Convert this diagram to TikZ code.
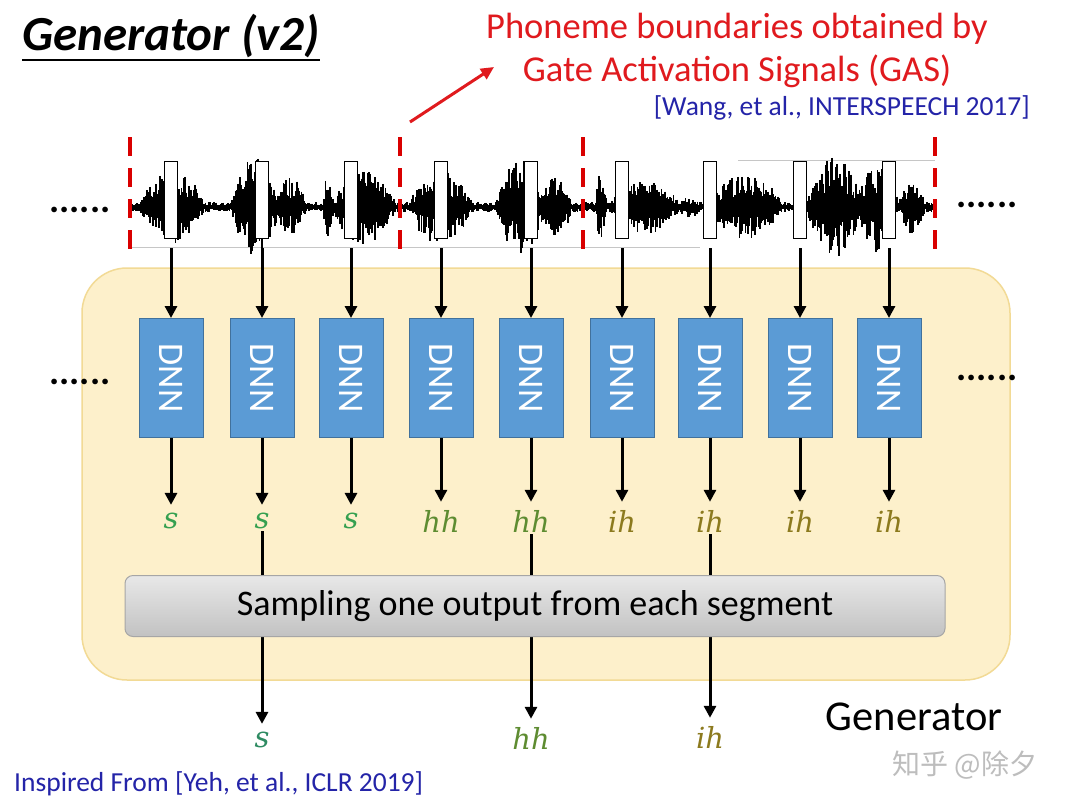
\documentclass[tikz,border=0pt]{standalone}
\usepackage{fontspec}
\setmainfont{Carlito}
\newfontfamily\lblfont{DejaVu Serif}
\newfontfamily\cjk{Noto Sans CJK SC}
\usetikzlibrary{arrows.meta}
\definecolor{genfill}{HTML}{FDF0CB}
\definecolor{gendraw}{HTML}{F2DA95}
\definecolor{dnnfill}{HTML}{5B9BD5}
\definecolor{dnndraw}{HTML}{41719C}
\definecolor{cs}{HTML}{35A050}
\definecolor{chh}{HTML}{5E8C31}
\definecolor{cih}{HTML}{8C7A1E}
\definecolor{csb}{HTML}{2E8B62}
\definecolor{redtxt}{HTML}{E01A1E}
\definecolor{bluetxt}{HTML}{2424A8}
\definecolor{wm}{HTML}{BDBDBD}
\tikzset{
  genbox/.style={draw=gendraw, line width=1.5pt, fill=genfill, rounded corners=45pt, minimum width=928pt, minimum height=412pt},
  framebox/.style={draw=black, line width=1.8pt, fill=white, minimum width=13pt, minimum height=77pt, inner sep=0pt},
  dnn/.style={draw=dnndraw, line width=1pt, fill=dnnfill, minimum width=64pt, minimum height=119pt, inner sep=0pt, text=white, font=\fontsize{36}{36}\selectfont},
  lbl/.style={font=\lblfont\itshape\fontsize{29}{29}\selectfont, inner sep=2pt},
  arr/.style={line width=3pt, -{Triangle[length=12pt,width=12pt]}},
  dots/.style={font=\bfseries\fontsize{38}{38}\selectfont, anchor=base, inner sep=0pt},
  sampbox/.style={draw=gray!70, line width=1pt, top color=gray!18, bottom color=gray!48, rounded corners=8pt, minimum width=820pt, minimum height=61pt, font=\fontsize{36}{36}\selectfont},
  boundary/.style={draw=red!85!black, line width=4pt, dash pattern=on 19pt off 12pt},
  wave/.style={line width=1.8pt, black},
  guide/.style={draw=gray!45, line width=0.8pt}
}
\begin{document}
\begin{tikzpicture}[x=1pt,y=-1pt]
\useasboundingbox (0,0) rectangle (1080,807);
\fill[white] (0,0) rectangle (1080,807);

% title
\node[anchor=base west, inner sep=0pt, font=\bfseries\itshape\fontsize{49}{49}\selectfont] (title) at (22,50) {Generator (v2)};
\draw[line width=2.5pt] ([yshift=-10pt]title.base west) -- ([yshift=-10pt]title.base east);

% red note
\node[align=center, text=redtxt, font=\fontsize{36.5}{43}\selectfont, inner sep=0pt] (note) at (737,50) {Phoneme boundaries obtained by\\Gate Activation Signals (GAS)};
\node[anchor=east, text=bluetxt, font=\fontsize{27.5}{27.5}\selectfont, inner sep=0pt] (wang) at (1030,108) {[Wang, et al., INTERSPEECH 2017]};
\coordinate (arrtail) at (410,122);
\coordinate (arrhead) at (494,67);
\draw[line width=3pt, redtxt, -{Triangle[length=13pt,width=12pt]}] (arrtail) -- (arrhead);

% generator box
\node[genbox] (gen) at (546,474) {};

% waveform
\draw[guide] (130,247) -- (700,247);
\draw[guide] (738,160) -- (935,160);
\pgfmathsetseed{11}
\foreach \x in {131,132.2,...,934} {
  \pgfmathsetmacro\env{5
    +34*max(0,1-((\x-172)/32)^2)
    +45*max(0,1-((\x-255)/24)^2)
    +25*max(0,1-((\x-290)/16)^2)
    +30*max(0,1-((\x-328)/5)^2)
    +32*max(0,1-((\x-364)/32)^2)
    +33*max(0,1-((\x-440)/32)^2)
    +45*max(0,1-((\x-520)/24)^2)
    +25*max(0,1-((\x-556)/16)^2)
    +30*max(0,1-((\x-601)/6)^2)
    +24*max(0,1-((\x-645)/34)^2)
    +6*max(0,1-((\x-690)/10)^2)
    +28*max(0,1-((\x-745)/38)^2)
    +45*max(0,1-((\x-835)/28)^2)
    +40*max(0,1-((\x-878)/20)^2)
    +22*max(0,1-((\x-912)/13)^2)}
  \pgfmathsetmacro\up{\env*(0.3+0.7*rnd)}
  \pgfmathsetmacro\dn{\env*(0.3+0.7*rnd)}
  \draw[wave] (\x,207-\up) -- (\x,207+\dn);
}
\draw[wave] (130,207) -- (935,207);

% boundaries
\foreach \bx in {130,400,583,935} {
  \draw[boundary] (\bx,137) -- (\bx,254);
}

% dots
\node[dots] (dotl1) at (80,212) {......};
\node[dots] (dotr1) at (987,207) {......};
\node[dots] (dotl2) at (80,384) {......};
\node[dots] (dotr2) at (987,380) {......};

% columns
\foreach \i/\cx/\t/\c in {1/171/s/cs,2/262/s/cs,3/351/s/cs,4/441/hh/chh,5/531/hh/chh,6/622/ih/cih,7/710/ih/cih,8/800/ih/cih,9/889/ih/cih} {
  \node[framebox] (f\i) at (\cx,200) {};
  \node[dnn] (d\i) at (\cx,378) {\rotatebox{-90}{DNN}};
  \node[lbl, text=\c] (l\i) at (\cx,521) {\t};
  \draw[arr, shorten <=9pt] (f\i) -- (d\i);
  \draw[arr, shorten >=6pt] (d\i) -- (l\i);
}

% bottom labels
\node[lbl, text=csb] (b2) at (262,740) {s};
\node[lbl, text=chh] (b5) at (531,738) {hh};
\node[lbl, text=cih] (b7) at (710,737) {ih};
\draw[arr, shorten >=6pt] (l2) -- (b2);
\draw[arr, shorten >=6pt] (l5) -- (b5);
\draw[arr, shorten >=6pt] (l7) -- (b7);

% sampling box
\node[sampbox] (samp) at (535,606) {Sampling one output from each segment};

% texts
\node[font=\fontsize{42.5}{42.5}\selectfont, inner sep=0pt] (genlbl) at (914,717) {Generator};
\node[anchor=west, text=bluetxt, font=\fontsize{27.5}{27.5}\selectfont, inner sep=0pt] (insp) at (14,784) {Inspired From [Yeh, et al., ICLR 2019]};
\node[text=wm, font=\cjk\fontsize{28}{28}\selectfont, inner sep=0pt] (wmk) at (965,765) {知乎 @除夕};
\end{tikzpicture}
\end{document}
